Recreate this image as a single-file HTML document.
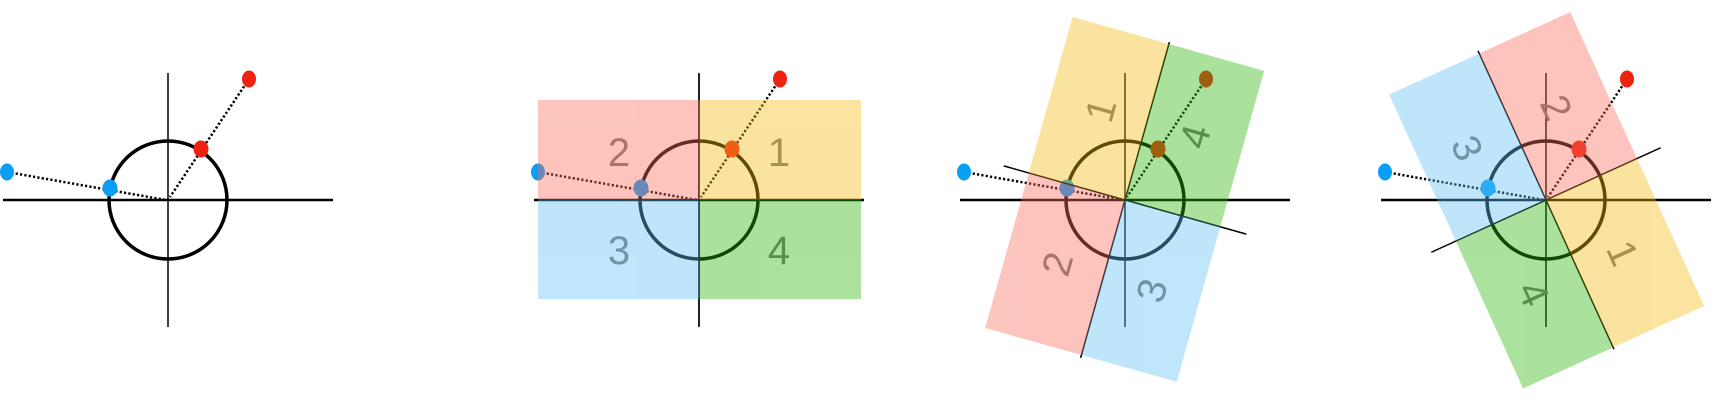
<!DOCTYPE html>
<html><head><meta charset="utf-8"><style>html,body{margin:0;padding:0;background:#fff;}svg{display:block}</style></head>
<body>
<svg width="1731" height="403" viewBox="0 0 1731 403" xmlns="http://www.w3.org/2000/svg" font-family="Liberation Sans, sans-serif">
<defs>
<g id="base">
  <line x1="-165" y1="0" x2="165" y2="0" stroke="#000" stroke-width="2.5"/>
  <line x1="0" y1="-127" x2="0" y2="127" stroke="#000" stroke-width="1.5"/>
  <circle cx="0" cy="0" r="59" fill="none" stroke="#000" stroke-width="3.5"/>
  <line x1="81" y1="-121" x2="2" y2="-3" stroke="#000" stroke-width="2.5" stroke-dasharray="2.2 2.2"/>
  <line x1="-161" y1="-28" x2="-2" y2="0" stroke="#000" stroke-width="2.5" stroke-dasharray="2.2 2.2"/>
  <ellipse cx="81" cy="-121" rx="7" ry="8.5" fill="#ee2211"/>
  <ellipse cx="33" cy="-51" rx="7.5" ry="8.5" fill="#ee2211"/>
  <ellipse cx="-161" cy="-28" rx="7" ry="8.5" fill="#0a9ef5"/>
  <ellipse cx="-58" cy="-12" rx="7.5" ry="8.5" fill="#0a9ef5"/>
</g>
<g id="labels" style="font-size:40px" fill="#777" text-anchor="middle">
  <text x="-80" y="-34">2</text>
  <text x="80" y="-34">1</text>
  <text x="-80" y="64">3</text>
  <text x="80" y="64">4</text>
</g>
<g id="overlay">
  <line x1="-164" y1="0" x2="164" y2="0" stroke="#000" stroke-width="1.5"/>
  <line x1="0" y1="-126" x2="0" y2="126" stroke="#000" stroke-width="1.5"/>
  <g opacity="0.4">
    <rect x="-161" y="-100" width="161" height="100" fill="rgb(248,110,92)"/>
    <rect x="0" y="-100" width="162" height="100" fill="rgb(245,187,17)"/>
    <rect x="-161" y="0" width="161" height="99" fill="rgb(97,192,245)"/>
    <rect x="0" y="0" width="162" height="99" fill="rgb(42,182,12)"/>
  </g>
</g>
</defs>

<g transform="translate(168,200)">
  <use href="#base"/>
</g>

<g transform="translate(699,200)">
  <use href="#base"/>
  <use href="#labels"/>
  <use href="#overlay"/>
</g>

<g transform="translate(1125,200)">
  <use href="#base"/>
  <g transform="rotate(-74.3)">
    <use href="#labels"/>
    <use href="#overlay"/>
  </g>
</g>

<g transform="translate(1546,200)">
  <use href="#base"/>
  <g transform="rotate(65.5)">
    <use href="#labels"/>
    <use href="#overlay"/>
  </g>
</g>
</svg>
</body></html>
